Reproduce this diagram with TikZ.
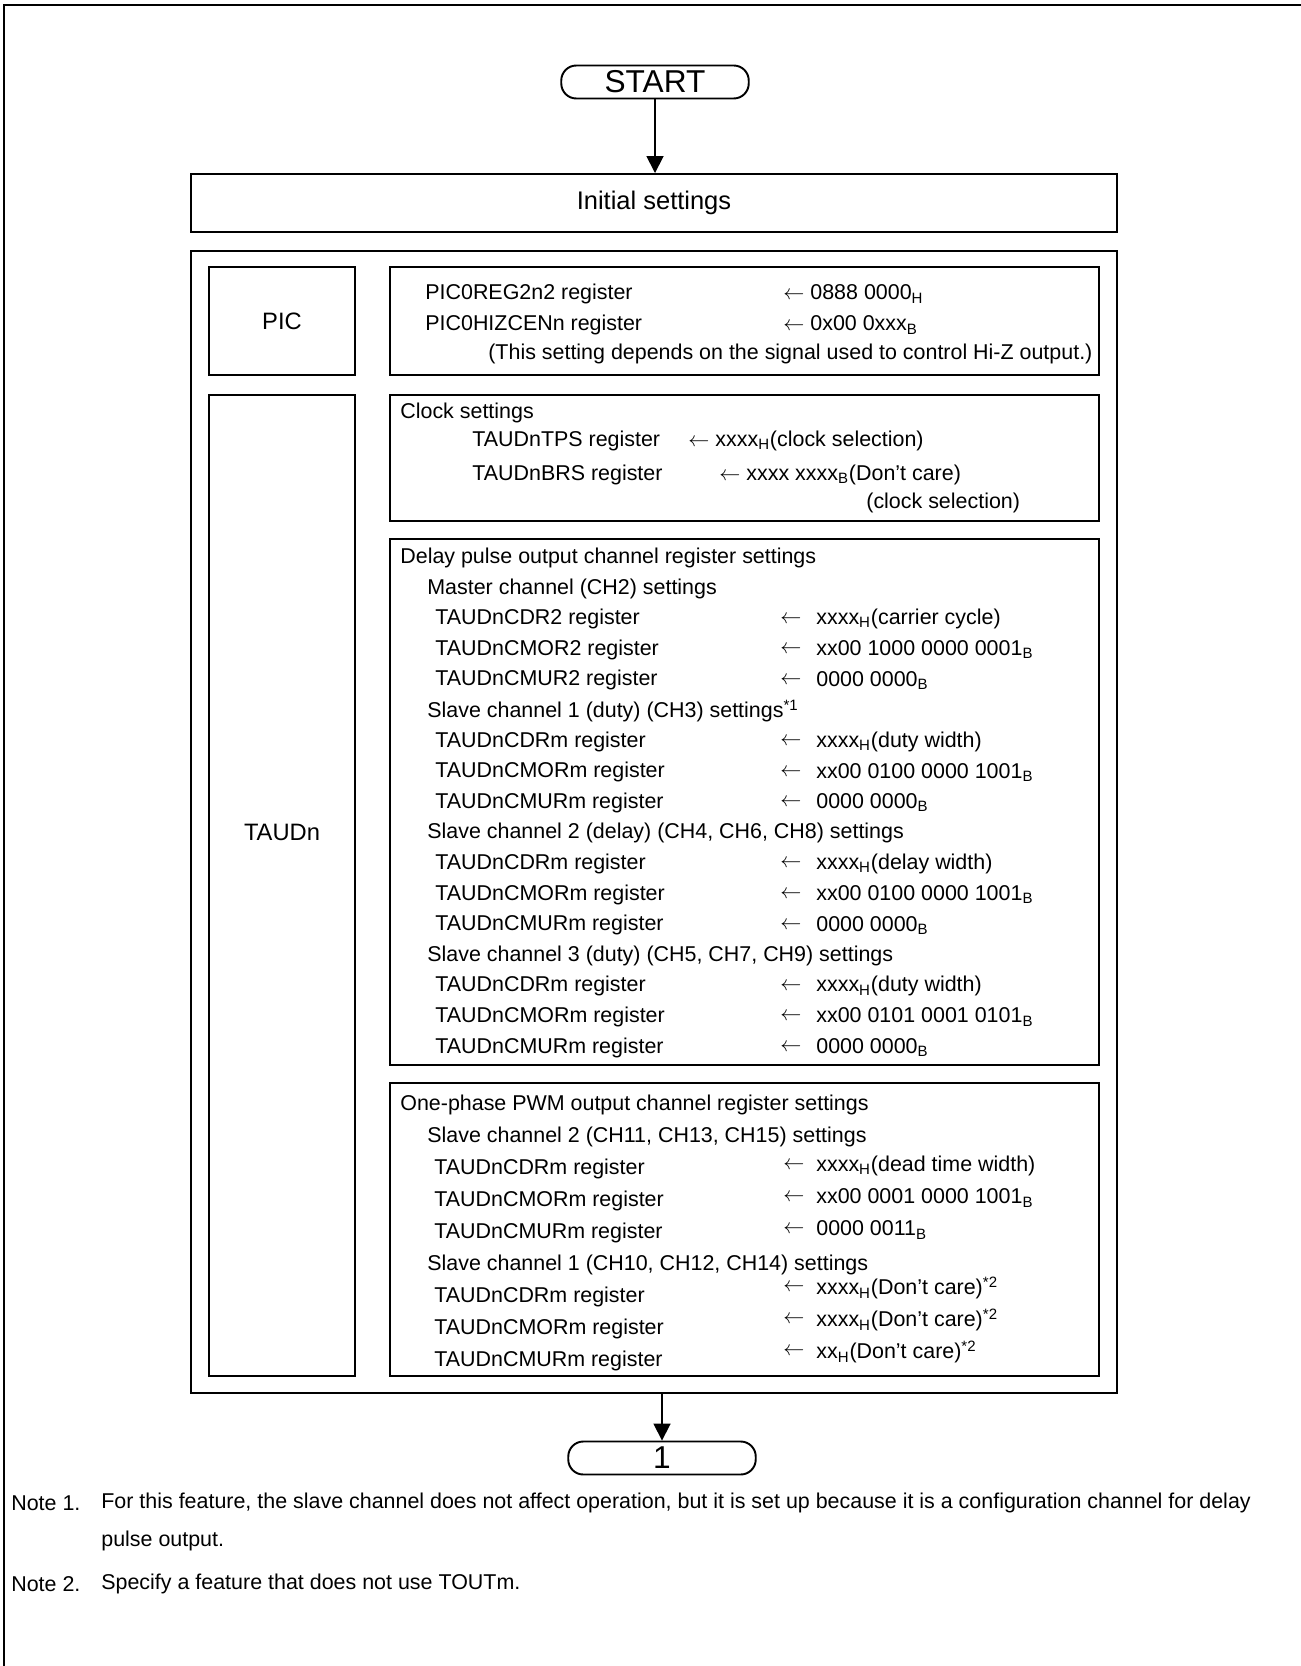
\documentclass[tikz,border=0pt]{standalone}
\usepackage{fontspec}
\setmainfont{Liberation Sans}
\usetikzlibrary{arrows.meta,positioning,fit,calc}

\newcommand{\hx}{\textsubscript{H}}
\newcommand{\bx}{\textsubscript{B}}
\newcommand{\nt}[1]{\textsuperscript{*#1}}
\newcommand{\la}{$\leftarrow$}

\tikzset{
  box/.style={draw, line width=1.1pt, inner sep=0pt},
  term/.style={draw, line width=1.1pt, rounded corners=0.3cm, minimum width=3.75cm,
    minimum height=0.66cm, inner sep=0pt, font=\fontsize{18}{20}\selectfont},
  txt/.style={anchor=west, inner sep=0pt, font=\fontsize{12.2}{14}\selectfont},
  lbl/.style={font=\fontsize{13.5}{16}\selectfont},
  flow/.style={-{Triangle[length=0.34cm, width=0.34cm]}, line width=1pt},
}

\begin{document}
\begin{tikzpicture}[x=0.02cm, y=-0.02cm]
\useasboundingbox (0,0) rectangle (1301,1666);
% page frame
\draw[line width=1.1pt] (1301,5) -- (4,5) -- (4,1666);

% flow
\node (start) [term] at (655,82) {START};
\node (init) [box, fit={(191,174) (1117,232)},
  label={[font=\fontsize{14.5}{16}\selectfont]center:Initial settings}] {};
\node (regs) [box, fit={(191,251) (1117,1393)}] {};
\node (term1) [term] at (662,1458) {1};
\draw[flow] (start) -- (start |- init.north);
\draw[flow] (term1 |- regs.south) -- (term1);

% modules
\node (pic) [box, fit={(209,267) (355,375)}, label={[lbl]center:PIC}] {};
\node (taud) [box, fit={(209,395) (355,1376)}] {};
\node (taudl) [lbl] at (282,832) {TAUDn};
\node (picset) [box, fit={(390,267) (1099,375)}] {};
\node (clock) [box, fit={(390,395) (1099,521)}] {};
\node (delay) [box, fit={(390,539) (1099,1065)}] {};
\node (pwm) [box, fit={(390,1083) (1099,1376)}] {};

% PIC settings
\node (p1) [txt] at (425,294) {PIC0REG2n2 register};
\node (p1v) [txt] at (783,294) {\la{} 0888 0000\hx};
\node (p2) [txt] at (425,325) {PIC0HIZCENn register};
\node (p2v) [txt] at (783,325) {\la{} 0x00 0xxx\bx};
\node (p3) [txt] at (488,354) {(This setting depends on the signal used to control Hi-Z output.)};

% clock settings
\node (c0) [txt] at (400,413) {Clock settings};
\node (c1) [txt] at (472,441) {TAUDnTPS register};
\node (c1v) [txt] at (688,441) {\la{} xxxx\hx(clock selection)};
\node (c2) [txt] at (472,475) {TAUDnBRS register};
\node (c2v) [txt] at (719,475) {\la{} xxxx xxxx\bx(Don’t care)};
\node (c3) [txt] at (866,503) {(clock selection)};

% delay pulse output
\node (d0) [txt] at (400,558) {Delay pulse output channel register settings};
\foreach \k/\head in {1/Master channel (CH2) settings,
    5/{Slave channel 1 (duty) (CH3) settings\nt{1}},
    9/{Slave channel 2 (delay) (CH4, CH6, CH8) settings},
    13/{Slave channel 3 (duty) (CH5, CH7, CH9) settings}}
  \node (dh\k) [txt] at (427,{558+30.6*\k}) {\head};
\foreach \k/\reg/\val in {2/CDR2/{xxxx\hx(carrier cycle)},
    3/CMOR2/{xx00 1000 0000 0001\bx}, 4/CMUR2/{0000 0000\bx},
    6/CDRm/{xxxx\hx(duty width)}, 7/CMORm/{xx00 0100 0000 1001\bx},
    8/CMURm/{0000 0000\bx}, 10/CDRm/{xxxx\hx(delay width)},
    11/CMORm/{xx00 0100 0000 1001\bx}, 12/CMURm/{0000 0000\bx},
    14/CDRm/{xxxx\hx(duty width)}, 15/CMORm/{xx00 0101 0001 0101\bx},
    16/CMURm/{0000 0000\bx}}
{
  \node (dr\k) [txt] at (435,{558+30.6*\k}) {TAUDn\reg\ register};
  \node (da\k) [txt] at (780,{558+30.6*\k}) {\la};
  \node (dv\k) [txt] at (816,{558+30.6*\k}) {\val};
}

% one-phase PWM output
\node (w0) [txt] at (400,1105) {One-phase PWM output channel register settings};
\node (wh1) [txt] at (427,1137) {Slave channel 2 (CH11, CH13, CH15) settings};
\node (wh5) [txt] at (427,1265) {Slave channel 1 (CH10, CH12, CH14) settings};
\foreach \k/\dy/\reg/\val in {2/3/CDRm/{xxxx\hx(dead time width)},
    3/3/CMORm/{xx00 0001 0000 1001\bx}, 4/3/CMURm/{0000 0011\bx},
    6/9/CDRm/{xxxx\hx(Don’t care)\nt{2}}, 7/9/CMORm/{xxxx\hx(Don’t care)\nt{2}},
    8/9/CMURm/{xx\hx(Don’t care)\nt{2}}}
{
  \node (wr\k) [txt] at (434,{1105+32*\k}) {TAUDn\reg\ register};
  \node (wa\k) [txt] at (783,{1105+32*\k-\dy}) {\la};
  \node (wv\k) [txt] at (816,{1105+32*\k-\dy}) {\val};
}

% notes
\node (n1) [txt] at (11,1503) {Note 1.};
\node (n1t) [txt] at (101,1503) {For this feature, the slave channel does not affect operation, but it is set up because it is a configuration channel for delay};
\node (n1u) [txt] at (101,1541) {pulse output.};
\node (n2) [txt] at (11,1584) {Note 2.};
\node (n2t) [txt] at (101,1584) {Specify a feature that does not use TOUTm.};
\end{tikzpicture}
\end{document}
